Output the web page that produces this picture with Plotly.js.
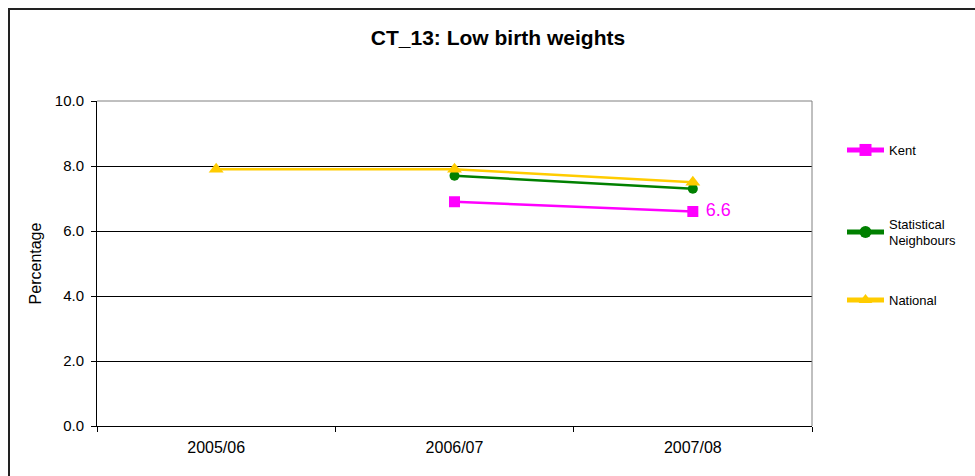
<!DOCTYPE html>
<html>
<head>
<meta charset="utf-8">
<script src="https://cdn.plot.ly/plotly-3.0.1.min.js"></script>
<style>
html,body{margin:0;padding:0;background:#fff;}
#chart{width:975px;height:476px;}
</style>
</head>
<body>
<div id="chart"></div>
<script>
const categories = ["2005/06", "2006/07", "2007/08"];
const kent = [null, 6.9, 6.6];
const statNeighbours = [null, 7.7, 7.3];
const national = [7.9, 7.9, 7.5];
const yTicks = [0, 2, 4, 6, 8, 10];
const seriesNames = ["Kent", "Statistical<br>Neighbours", "National"];

const L = 97, R = 812, T = 101, B = 426, W = 975, H = 476;
const pw = R - L, ph = B - T;
const px = x => (x - L) / pw;
const py = y => (B - y) / ph;

const kentText = kent.map((v, i) => (i === kent.length - 1 && v != null) ? "\u00a0" + v.toFixed(1) : "");

const FAM = "Liberation Sans, Arial, sans-serif";

const traces = [
  {
    x: categories, y: kent, name: seriesNames[0], type: "scatter", mode: "lines+markers+text",
    text: kentText, textposition: "middle right",
    textfont: {family: FAM, size: 18, color: "#FF00FF"},
    line: {color: "#FF00FF", width: 2.5},
    marker: {symbol: "square", size: 11, color: "#FF00FF"},
    legend: "legend", cliponaxis: false, connectgaps: false
  },
  {
    x: categories, y: statNeighbours, name: seriesNames[1], type: "scatter", mode: "lines+markers",
    line: {color: "#008000", width: 2.5},
    marker: {symbol: "circle", size: 10, color: "#008000"},
    legend: "legend2", cliponaxis: false
  },
  {
    x: categories, y: national, name: seriesNames[2], type: "scatter", mode: "lines+markers",
    line: {color: "#FFCC00", width: 2.5},
    marker: {symbol: "triangle-up", size: 13, color: "#FFCC00"},
    legend: "legend3", cliponaxis: false
  }
];

const font = {family: FAM, size: 15, color: "#000"};
const legendBase = {
  font: {family: FAM, size: 13, color: "#000"},
  bgcolor: "rgba(0,0,0,0)", borderwidth: 0, xanchor: "left", yanchor: "middle",
  itemsizing: "constant", itemwidth: 37
};

const layout = {
  width: W, height: H,
  margin: {l: L, r: W - R, t: T, b: H - B, pad: 0},
  paper_bgcolor: "#fff", plot_bgcolor: "#fff",
  font: font,
  showlegend: true,
  title: {
    text: "<b>CT_13: Low birth weights</b>",
    font: {family: FAM, size: 21, color: "#000"},
    xref: "paper", yref: "container", x: px(498), y: 1 - 38 / H, xanchor: "center", yanchor: "middle"
  },
  xaxis: {
    type: "category", range: [-0.5, categories.length - 0.5],
    tickson: "boundaries", ticks: "outside", ticklen: 5, tickcolor: "#000",
    showline: true, linecolor: "#000", linewidth: 1,
    showgrid: false, zeroline: false,
    tickfont: {family: FAM, size: 16, color: "#000"}, ticklabelstandoff: 7, fixedrange: true
  },
  yaxis: {
    range: [0, 10], tickvals: yTicks, ticktext: yTicks.map(v => v.toFixed(1)),
    ticks: "outside", ticklen: 5, tickcolor: "#000",
    showline: true, linecolor: "#000", linewidth: 1,
    showgrid: true, gridcolor: "#000", gridwidth: 1, zeroline: false,
    tickfont: font, ticklabelstandoff: 4,
    title: {text: "Percentage", font: {family: FAM, size: 16, color: "#000"}, standoff: 9},
    fixedrange: true
  },
  legend: Object.assign({}, legendBase, {x: px(842), y: py(150)}),
  legend2: Object.assign({}, legendBase, {x: px(842), y: py(232)}),
  legend3: Object.assign({}, legendBase, {x: px(842), y: py(300)}),
  shapes: [
    {type: "line", xref: "paper", yref: "paper", x0: 1, x1: 1, y0: 0, y1: 1, line: {color: "#808080", width: 1}},
    {type: "line", xref: "paper", yref: "paper", x0: 0, x1: 1, y0: 1, y1: 1, line: {color: "#808080", width: 1}},
    {type: "rect", xref: "paper", yref: "paper", x0: px(9), x1: px(W + 20), y0: py(9), y1: py(H + 20), line: {color: "#222", width: 2}}
  ]
};

Plotly.newPlot("chart", traces, layout, {displayModeBar: false, staticPlot: true});
</script>
</body>
</html>
